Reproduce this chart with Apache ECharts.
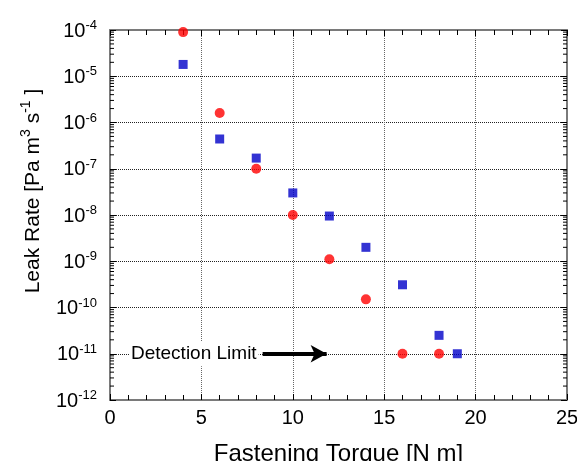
<!DOCTYPE html>
<html>
<head>
<meta charset="utf-8">
<script src="https://cdn.jsdelivr.net/npm/echarts@6/dist/echarts.min.js"></script>
<style>
  html, body { margin: 0; padding: 0; background: #fff; }
  #chart { width: 577px; height: 461px; }
</style>
</head>
<body>
<div id="chart"></div>
<script>
// ---- data ----
const seriesNames = ['Circle series', 'Square series'];
const circleTorque = [4, 6, 8, 10, 12, 14, 16, 18];
const circleLeak = [9e-5, 1.6e-6, 1.0e-7, 1.0e-8, 1.1e-9, 1.5e-10, 1.0e-11, 1.0e-11];
const squareTorque = [4, 6, 8, 10, 12, 14, 16, 18, 19];
const squareLeak = [1.8e-5, 4.4e-7, 1.7e-7, 3.0e-8, 9.5e-9, 2.0e-9, 3.1e-10, 2.5e-11, 1.0e-11];
const xTicks = [0, 5, 10, 15, 20, 25];
const yDecadeExponents = [-12, -11, -10, -9, -8, -7, -6, -5, -4];
const minorMantissas = [2, 3, 4, 5, 6, 7, 8, 9];
const detectionLimit = 1e-11;
const detectionLabel = 'Detection Limit';
const arrowFromTo = [8.35, 11.85];

// axis decoration: log minor tick values (2..9 × 10^n)
const minorTickValues = [];
for (let i = 0; i < yDecadeExponents.length - 1; i++) {
  for (const m of minorMantissas) minorTickValues.push(m * Math.pow(10, yDecadeExponents[i]));
}

const FONT = '"Liberation Sans", Arial, sans-serif';
const chart = echarts.init(document.getElementById('chart'), null, { renderer: 'canvas' });

const xMin = xTicks[0], xMax = xTicks[xTicks.length - 1];
const yMin = Math.pow(10, yDecadeExponents[0]);
const yMax = Math.pow(10, yDecadeExponents[yDecadeExponents.length - 1]);

const axisLineStyle = { color: '#7a7a7a', width: 2 };

function yLabel(v) {
  const e = Math.round(Math.log10(v));
  return '{b|10}{e|' + e + '}';
}

const option = {
  animation: false,
  backgroundColor: '#ffffff',
  grid: { left: 110, right: 10, top: 30, bottom: 61, containLabel: false, outerBoundsMode: 'none' },
  xAxis: [
    {
      type: 'value', position: 'bottom', min: xMin, max: xMax, interval: 5,
      name: 'Fastening Torque [N m]', nameLocation: 'middle', nameGap: 42,
      nameTextStyle: { fontFamily: FONT, fontSize: 24, color: '#000' },
      axisLine: { show: true, onZero: false, lineStyle: axisLineStyle },
      axisTick: { show: true, inside: true, length: 6, lineStyle: { color: '#000', width: 1 } },
      minorTick: { show: true, splitNumber: 5, length: 5, lineStyle: { color: '#000', width: 1 } },
      axisLabel: { fontFamily: FONT, fontSize: 20, color: '#000', margin: 8 },
      splitLine: { show: true, lineStyle: { color: '#666', type: [1, 1], width: 1 } }
    },
    {
      type: 'value', position: 'top', min: xMin, max: xMax, interval: 5,
      axisLine: { show: true, onZero: false, lineStyle: axisLineStyle },
      axisTick: { show: true, inside: true, length: 6, lineStyle: { color: '#000', width: 1 } },
      minorTick: { show: true, splitNumber: 5, length: 5, lineStyle: { color: '#000', width: 1 } },
      axisLabel: { show: false },
      splitLine: { show: false }
    }
  ],
  yAxis: [
    {
      type: 'log', logBase: 10, position: 'left', min: yMin, max: yMax, splitNumber: 8,
      name: '{m|Leak Rate [Pa m}{s|3}{m| s}{s|-1}{m| ]}',
      nameLocation: 'middle', nameRotate: 90, nameGap: 66,
      nameTextStyle: {
        padding: [0, 0, 0, 48],
        rich: {
          m: { fontFamily: FONT, fontSize: 21, color: '#000', lineHeight: 25, verticalAlign: 'bottom' },
          s: { fontFamily: FONT, fontSize: 14, color: '#000', lineHeight: 14, verticalAlign: 'top' }
        }
      },
      axisLine: { show: true, onZero: false, lineStyle: axisLineStyle },
      axisTick: { show: true, inside: true, length: 6, lineStyle: { color: '#000', width: 1 } },
      axisLabel: {
        margin: 13, formatter: yLabel,
        rich: {
          b: { fontFamily: FONT, fontSize: 20, color: '#000', lineHeight: 22, verticalAlign: 'bottom' },
          e: { fontFamily: FONT, fontSize: 13, color: '#000', lineHeight: 13, verticalAlign: 'top' }
        }
      },
      splitLine: { show: true, lineStyle: { color: '#222', type: [1, 1], width: 1 } }
    },
    {
      type: 'log', logBase: 10, position: 'right', min: yMin, max: yMax, splitNumber: 8,
      axisLine: { show: true, onZero: false, lineStyle: axisLineStyle },
      axisTick: { show: true, inside: true, length: 6, lineStyle: { color: '#000', width: 1 } },
      axisLabel: { show: false },
      splitLine: { show: false }
    }
  ],
  series: [
    {
      name: 'minor ticks', type: 'custom', xAxisIndex: 0, yAxisIndex: 0, silent: true, z: 1,
      data: minorTickValues.map(v => [xMin, v]),
      encode: { x: 0, y: 1 },
      renderItem: function (params, api) {
        const v = api.value(1);
        const p = api.coord([xMin, v]);
        const q = api.coord([xMax, v]);
        const st = { stroke: '#000', lineWidth: 1 };
        return {
          type: 'group',
          children: [
            { type: 'line', shape: { x1: p[0], y1: p[1], x2: p[0] + 4, y2: p[1] }, style: st },
            { type: 'line', shape: { x1: q[0] - 4, y1: q[1], x2: q[0], y2: q[1] }, style: st }
          ]
        };
      }
    },
    {
      name: seriesNames[0], type: 'scatter', xAxisIndex: 0, yAxisIndex: 0, z: 5,
      symbol: 'circle', symbolSize: 10,
      itemStyle: { color: '#ff0000' },
      data: circleTorque.map((x, i) => [x, circleLeak[i]]),
      markLine: {
        silent: true, symbol: ['none', 'arrow'], symbolSize: [13, 16], z: 10,
        lineStyle: { color: '#000', width: 4, type: 'solid' },
        label: {
          show: true, position: 'start', formatter: detectionLabel, distance: 4,
          fontFamily: FONT, fontSize: 19, color: '#000',
          backgroundColor: '#ffffff', padding: [3, 2, 3, 2]
        },
        data: [[
          { coord: [arrowFromTo[0], detectionLimit] },
          { coord: [arrowFromTo[1], detectionLimit] }
        ]]
      }
    },
    {
      name: seriesNames[1], type: 'scatter', xAxisIndex: 0, yAxisIndex: 0, z: 5,
      symbol: 'rect', symbolSize: 9,
      itemStyle: { color: '#0000c8' },
      data: squareTorque.map((x, i) => [x, squareLeak[i]])
    }
  ]
};
chart.setOption(option);
</script>
</body>
</html>
